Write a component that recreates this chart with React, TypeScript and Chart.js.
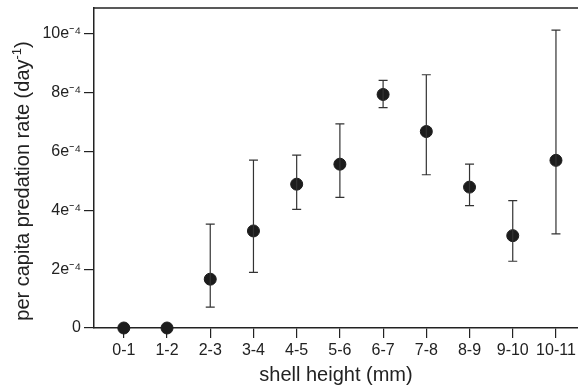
import React, { useEffect, useRef } from "react";
import { Chart, registerables } from "chart.js";

Chart.register(...registerables);

const categories = ["0-1", "1-2", "2-3", "3-4", "4-5", "5-6", "6-7", "7-8", "8-9", "9-10", "10-11"];
const rateMean = [0, 0, 1.66e-4, 3.3e-4, 4.89e-4, 5.57e-4, 7.94e-4, 6.68e-4, 4.79e-4, 3.14e-4, 5.7e-4];
const rateUpper = [0, 0, 3.53e-4, 5.71e-4, 5.88e-4, 6.94e-4, 8.42e-4, 8.61e-4, 5.57e-4, 4.33e-4, 10.13e-4];
const rateLower = [0, 0, 0.71e-4, 1.89e-4, 4.03e-4, 4.44e-4, 7.49e-4, 5.21e-4, 4.16e-4, 2.27e-4, 3.2e-4];
const yTicks = [0, 2e-4, 4e-4, 6e-4, 8e-4, 10e-4];
const yTitleMain = "per capita predation rate (day";
const yTitleSup = "-1";
const yTitleEnd = ")";

const FONT = "'Liberation Sans', Arial, Helvetica, sans-serif";
const INK = "#222222";

const errorBarPlugin = {
  id: "errorBars",
  beforeDatasetsDraw(chart: any) {
    const { ctx, chartArea } = chart;
    ctx.save();
    ctx.strokeStyle = INK;
    ctx.lineWidth = 1.5;
    ctx.beginPath();
    ctx.moveTo(chartArea.left, chartArea.top);
    ctx.lineTo(chartArea.right, chartArea.top);
    ctx.stroke();
    ctx.restore();
  },
  afterDatasetsDraw(chart: any) {
    const { ctx, scales } = chart;
    const xs = scales.x;
    const ys = scales.y;
    ctx.save();
    ctx.strokeStyle = "#333333";
    ctx.lineWidth = 1.2;
    const cap = 4.5;
    categories.forEach((_, i) => {
      if (rateUpper[i] === rateLower[i]) return;
      const px = xs.getPixelForValue(i);
      const top = ys.getPixelForValue(rateUpper[i]);
      const bot = ys.getPixelForValue(rateLower[i]);
      ctx.beginPath();
      ctx.moveTo(px, top);
      ctx.lineTo(px, bot);
      ctx.moveTo(px - cap, top);
      ctx.lineTo(px + cap, top);
      ctx.moveTo(px - cap, bot);
      ctx.lineTo(px + cap, bot);
      ctx.stroke();
    });
    ctx.restore();
  },
  afterDraw(chart: any) {
    const { ctx, chartArea } = chart;
    ctx.save();
    const big = `20px ${FONT}`;
    const small = `13px ${FONT}`;
    ctx.font = big;
    const w1 = ctx.measureText(yTitleMain).width;
    const w3 = ctx.measureText(yTitleEnd).width;
    ctx.font = small;
    const w2 = ctx.measureText(yTitleSup).width;
    const total = w1 + w2 + w3;
    const cy = (chartArea.top + chartArea.bottom) / 2 + 13;
    ctx.translate(29, cy);
    ctx.rotate(-Math.PI / 2);
    ctx.fillStyle = INK;
    ctx.textBaseline = "alphabetic";
    ctx.textAlign = "left";
    let x = -total / 2;
    ctx.font = big;
    ctx.fillText(yTitleMain, x, 0);
    x += w1;
    ctx.font = small;
    ctx.fillText(yTitleSup, x, -8);
    x += w2;
    ctx.font = big;
    ctx.fillText(yTitleEnd, x, 0);
    ctx.restore();
  },
};

export default function App() {
  const ref = useRef<HTMLCanvasElement | null>(null);
  useEffect(() => {
    if (!ref.current) return;
    const chart = new Chart(ref.current, {
      type: "scatter",
      data: {
        datasets: [
          {
            label: "per capita predation rate",
            data: rateMean.map((v, i) => ({ x: i, y: v })),
            backgroundColor: "#1c1c1c",
            borderColor: "#1c1c1c",
            pointRadius: 6,
            pointHoverRadius: 6,
            clip: false as any,
          },
        ],
      },
      options: {
        animation: false,
        responsive: false,
        layout: { autoPadding: false, padding: { left: 0, right: 0, top: 8, bottom: 0 } },
        plugins: { legend: { display: false }, tooltip: { enabled: false } },
        scales: {
          x: {
            type: "linear",
            min: -0.69,
            max: 10.51,
            afterBuildTicks: (s: any) => {
              s.ticks = categories.map((_, i) => ({ value: i }));
            },
            afterFit: (s: any) => {
              s.height = 60;
              s.paddingLeft = 0;
              s.paddingRight = 0;
            },
            ticks: {
              callback: (v: any) => categories[Math.round(Number(v))] ?? "",
              font: { family: FONT, size: 16 },
              color: INK,
              padding: 3,
              maxRotation: 0,
              autoSkip: false,
            },
            grid: { drawOnChartArea: false, drawTicks: true, tickLength: 10, color: INK, lineWidth: 1.2 },
            border: { display: true, color: INK, width: 1.5 },
            title: {
              display: true,
              text: "shell height (mm)",
              font: { family: FONT, size: 20 },
              color: INK,
              padding: { top: 0, bottom: 1 },
            },
          },
          y: {
            type: "linear",
            min: 0,
            max: 10.88e-4,
            afterBuildTicks: (s: any) => {
              s.ticks = yTicks.map((v) => ({ value: v }));
            },
            afterFit: (s: any) => {
              s.width = 94;
              s.paddingTop = 0;
              s.paddingBottom = 0;
            },
            ticks: {
              callback: (v: any) => {
                const n = Math.round(Number(v) * 1e4);
                return n === 0 ? "0" : `${n}e⁻⁴`;
              },
              font: { family: FONT, size: 16 },
              color: INK,
              padding: 3,
            },
            grid: { drawOnChartArea: false, drawTicks: true, tickLength: 10, color: INK, lineWidth: 1.2 },
            border: { display: true, color: INK, width: 1.5 },
            title: { display: false },
          },
        },
      },
      plugins: [errorBarPlugin],
    });
    return () => chart.destroy();
  }, []);
  return (
    <div style={{ position: "fixed", left: 0, top: 0, width: 578, height: 388, background: "#fff" }}>
      <canvas ref={ref} width={578} height={388} style={{ width: 578, height: 388, display: "block" }} />
    </div>
  );
}
